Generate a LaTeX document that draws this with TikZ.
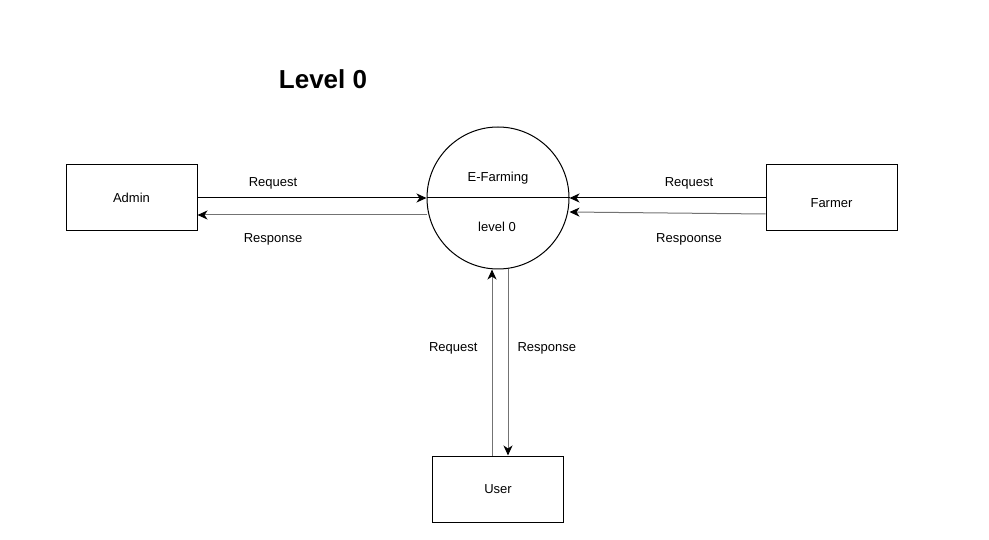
\documentclass[tikz,border=0pt]{standalone}
\usepackage{fontspec}
\setmainfont{Liberation Sans}
\usetikzlibrary{positioning, arrows.meta}
\tikzset{
>={Stealth[length=10pt, width=9pt, inset=3pt, color=black]}, % heads stay black on grey lines
every node/.style={font=\fontsize{13}{15}\selectfont},
entity/.style={draw, line width=1pt, minimum width=131pt, minimum height=66pt, inner sep=0pt}, % external entities
process/.style={draw, circle, line width=1pt, minimum size=142pt, inner sep=0pt}, % the one process
flow/.style={->, line width=1pt},
faint/.style={flow, draw=black!55},
lbl/.style={inner sep=0pt, text height=9.5pt, text depth=2.5pt},
}

\begin{document}
\begin{tikzpicture}[x=1pt, y=-1pt]
\useasboundingbox (0,0) rectangle (989,540);
\node[font=\fontsize{26}{30}\selectfont\bfseries] (title) at (323,79) {Level 0};
\node[process] (EF) at (498,198) {};
\node[entity, left=229pt of EF] (admin) {Admin};
\node[entity, right=196pt of EF, text height=19.5pt, text depth=0pt] (farmer) {Farmer};
\node[entity, below=186pt of EF] (user) {User};

% inside the process circle
\draw[line width=1pt] (EF.west) -- (EF.east);
\node[lbl, above=14pt of EF.center] (EFname) {E-Farming};
\node[lbl, below=23.5pt of EF.center, xshift=-1pt] (EFlevel) {level 0};

% admin
\draw[flow] (admin.east) -- node[lbl, pos=.33, above=8.5pt] (adminreq) {Request} (EF.west);
\draw[faint] ([yshift=-17pt]EF.west) -- node[lbl, pos=.67, below=18pt] (adminres) {Response} ([yshift=-17pt]admin.east);

% farmer
\draw[flow] (farmer.west) -- node[lbl, pos=.39, above=8.5pt] (farmerreq) {Request} (EF.east);
\draw[faint] ([yshift=-16pt]farmer.west) -- node[lbl, pos=.39, below=19pt] (farmerres) {Respoonse} ([yshift=-14pt]EF.east);

% user
\draw[faint] ([xshift=-6pt]user.north) -- node[lbl, pos=.577, left=14pt] (userreq) {Request} ([xshift=-6pt]EF.south);
\draw[faint] ([xshift=10pt]EF.south) -- node[lbl, pos=.424, right=9pt] (userres) {Response} ([xshift=10pt]user.north);
\end{tikzpicture}
\end{document}
